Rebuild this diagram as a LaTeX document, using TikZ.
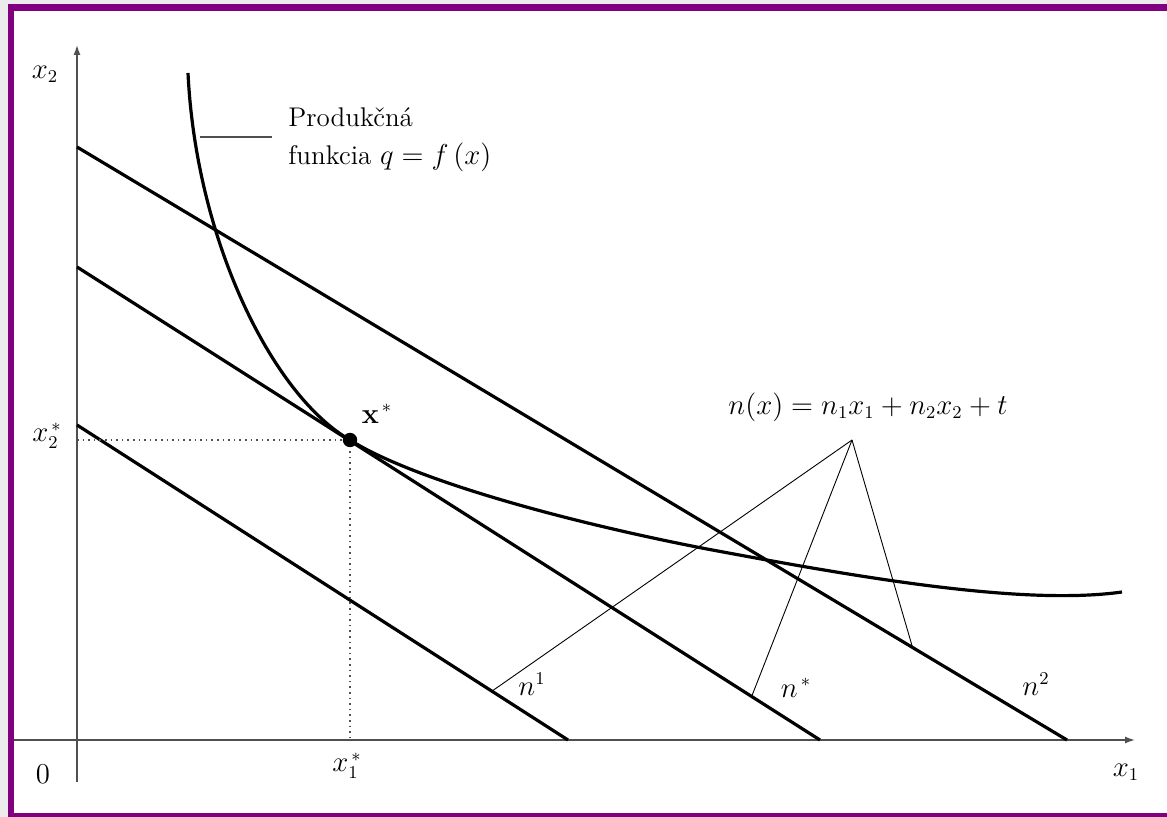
\documentclass[tikz,border=0pt]{standalone}
\usepackage{amsmath,amssymb}
\usepackage{tikz}
\usetikzlibrary{positioning,arrows.meta,calc}
\usepackage{xcolor}
\definecolor{framepurple}{RGB}{128,0,128}
\definecolor{axisgray}{RGB}{80,80,80}

\begin{document}
\begin{tikzpicture}[x=0.5pt,y=-0.5pt,
  axisline/.style={axisgray,line width=0.7pt,-{Latex[length=5pt,width=3.5pt]}},
  budget/.style={black,line width=1.6pt},
  fanline/.style={black,line width=0.45pt},
  guide/.style={axisgray,dotted,line width=0.8pt},
  lbl/.style={font=\fontsize{13.5}{19}\selectfont,inner sep=0pt}]
% frame
\useasboundingbox (0,0) rectangle (1167,817);
\fill[gray!15] (0,0) rectangle (1167,817);
\fill[framepurple] (8,4) rectangle (1167,817);
\fill[white] (14,11) rectangle (1167,813);
% axes
\coordinate (O) at (77,740);
\draw[axisline] (14,740) -- (1135,740);
\draw[axisline] (77,782) -- (77,45);
\node[lbl] (xone) at (1126,772) {$x_1$};
\node[lbl] (xtwo) at (45,74) {$x_2$};
\node[lbl] (zero) at (43,774) {$0$};
% budget lines
\coordinate (n1a) at (77,425);
\coordinate (n1b) at (568,740);
\coordinate (nsa) at (77,267);
\coordinate (nsb) at (820,740);
\coordinate (n2a) at (77,147);
\coordinate (n2b) at (1067,740);
\draw[budget] (n1a) -- (n1b);
\draw[budget] (nsa) -- (nsb);
\draw[budget] (n2a) -- (n2b);
% production function
\coordinate (opt) at (350,440);
\draw[black,line width=1.6pt] (188,73) .. controls (196,240) and (272,395) .. (opt)
  .. controls (410,478) and (557,520) .. (707,549)
  .. controls (857,577) and (1022,606) .. (1122,592);
\coordinate (leadA) at (200,137);
\coordinate (leadB) at (272,137);
\draw[axisgray,line width=0.6pt] (leadA) -- (leadB);
\node[lbl,align=left,anchor=west] (prod) at (288,140) {Produkčná\\funkcia $q = f\,(x)$};
% optimum
\draw[guide] (77,440) -- (opt);
\draw[guide] (opt) -- (350,740);
\fill[black] (opt) circle (3.6pt);
\node[lbl] (optlbl) at (377,414) {$\mathbf{x}^{\,*}$};
\node[lbl] (xtwostar) at (47,436) {$x_2^{\,*}$};
\node[lbl] (xonestar) at (347,766) {$x_1^{\,*}$};
% objective
\node[lbl] (obj) at (868,407) {$n(x) = n_1x_1 + n_2x_2 + t$};
\coordinate (apex) at (852,440);
\coordinate (f1) at ($(n1a)!0.845!(n1b)$);
\coordinate (fs) at ($(nsa)!0.908!(nsb)$);
\coordinate (f2) at ($(n2a)!0.844!(n2b)$);
\draw[fanline] (apex) -- (f1);
\draw[fanline] (apex) -- (fs);
\draw[fanline] (apex) -- (f2);
\node[lbl] (none) at (532,684) {$n^{1}$};
\node[lbl] (nstar) at (796,688) {$n^{\,*}$};
\node[lbl] (ntwo) at (1036,684) {$n^{2}$};
\end{tikzpicture}
\end{document}
